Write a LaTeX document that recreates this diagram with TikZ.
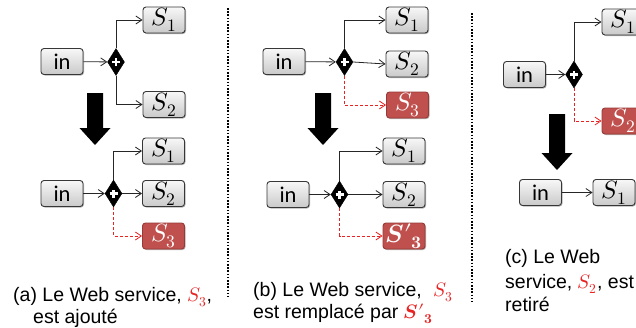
\documentclass[tikz,border=0pt]{standalone}
\usepackage{fontspec}
\usepackage{unicode-math}
\setmainfont{Liberation Sans}
\setmathfont{Latin Modern Math}
\newfontfamily\calibfont{Carlito}
\usetikzlibrary{shapes.geometric,arrows.meta,shadows}
\definecolor{boxred}{RGB}{192,80,77}
\definecolor{boxredline}{RGB}{150,58,56}
\definecolor{linered}{RGB}{232,35,35}
\definecolor{boxline}{RGB}{55,55,55}
\newcommand\bigdown[3]{\fill[black] (#1-8,#2) -- (#1+8,#2) -- (#1+8,#3-17) -- (#1+15.5,#3-17) -- (#1,#3) -- (#1-15.5,#3-17) -- (#1-8,#3-17) -- cycle;}
\newcommand\sprime{\symbfit{S}{\prime}_{\symbf{3}}}
\tikzset{
  box/.style={draw=boxline, line width=0.9pt, rounded corners=3pt, minimum width=42pt, minimum height=26pt, inner sep=0pt,
    top color=gray!6, bottom color=gray!42,
    drop shadow={shadow xshift=1pt, shadow yshift=-1pt, opacity=0.3, fill=black}},
  redbox/.style={draw=boxredline, line width=0.9pt, rounded corners=3pt, minimum width=42pt, minimum height=26pt, inner sep=0pt,
    fill=boxred, text=white,
    drop shadow={shadow xshift=1pt, shadow yshift=-1pt, opacity=0.3, fill=black}},
  inbox/.style={box, font=\calibfont\fontsize{22.5}{23}\selectfont},
  sbox/.style={box, font=\fontsize{25}{26}\selectfont},
  srbox/.style={redbox, font=\fontsize{25}{26}\selectfont},
  gate/.style={diamond, fill=black, draw=black, inner sep=0pt, minimum width=17pt, minimum height=27pt},
  plus/.style={white, line width=2.6pt},
  conn/.style={draw=black!85, line width=0.8pt, -{Straight Barb[length=6pt,width=8pt]}},
  rconn/.style={draw=linered, line width=0.8pt, dash pattern=on 3pt off 2pt, -{Straight Barb[length=6pt,width=8pt]}},
  sepline/.style={line width=2.6pt, dash pattern=on 1.6pt off 1.6pt},
  captext/.style={anchor=base west, inner sep=0pt, font=\fontsize{19.5}{22}\selectfont}
}
\newcommand\plussign[1]{\draw[plus] ([xshift=-4pt]#1.center) -- ([xshift=4pt]#1.center) ([yshift=-4pt]#1.center) -- ([yshift=4pt]#1.center);}
\begin{document}
\begin{tikzpicture}[x=1pt,y=-1pt]
\useasboundingbox (0,0) rectangle (636,327);
\clip (0,0) rectangle (636,327);
% separators
\draw[sepline] (228,8) -- (228,297);
\draw[sepline] (472,13) -- (472,302);

% ---------- panel (a) ----------
\node[inbox] (ain) at (62,61.5) {in};
\node[gate] (ag) at (116,62) {};
\node[sbox] (as1) at (164,20) {$S_1$};
\node[sbox] (as2) at (164,104.5) {$S_2$};
\plussign{ag}
\draw[conn] (ain) -- (ag);
\draw[conn] (ag.north) |- (as1.west);
\draw[conn] (ag.south) |- (as2.west);
\bigdown{95}{93}{145}
\node[inbox] (ain2) at (62,193.5) {in};
\node[gate] (ag2) at (113.5,193.5) {};
\node[sbox] (as12) at (163.5,151) {$S_1$};
\node[sbox] (as22) at (163.5,193.5) {$S_2$};
\node[srbox] (as32) at (163.5,236) {$S_3$};
\plussign{ag2}
\draw[conn] (ain2) -- (ag2);
\draw[conn] (ag2.north) |- (as12.west);
\draw[conn] (ag2) -- (as22);
\draw[rconn] (ag2.south) |- (as32.west);
\node[captext] (acap1) at (13,301.5) {(a) Le Web service, {\color{linered}$S_3$},};
\node[captext] (acap2) at (33,323) {est ajouté};

% ---------- panel (b) ----------
\node[inbox] (bin) at (284,61.5) {in};
\node[gate] (bg) at (344.5,62) {};
\node[sbox] (bs1) at (407,20) {$S_1$};
\node[sbox] (bs2) at (407,64) {$S_2$};
\node[srbox] (bs3) at (407.5,105) {$S_3$};
\plussign{bg}
\draw[conn] (bin) -- (bg);
\draw[conn] (bg.north) |- (bs1.west);
\draw[conn] (bg.east) -- (bs2.west);
\draw[rconn] (bg.south) |- (bs3.west);
\bigdown{323}{93}{145}
\node[inbox] (bin2) at (288,194.5) {in};
\node[gate] (bg2) at (339.5,194.5) {};
\node[sbox] (bs12) at (404,151) {$S_1$};
\node[sbox] (bs22) at (404,194.5) {$S_2$};
\node[srbox] (bs32) at (404,236) {$\sprime$};
\plussign{bg2}
\draw[conn] (bin2) -- (bg2);
\draw[conn] (bg2.north) |- (bs12.west);
\draw[conn] (bg2) -- (bs22);
\draw[rconn] (bg2.south) |- (bs32.west);
\node[captext] (bcap1) at (253,296.5) {(b) Le Web service,\hspace{12pt}{\color{linered}$S_3$}};
\node[captext] (bcap2) at (253,318.5) {est remplacé par {\color{linered}$\sprime$}};

% ---------- panel (c) ----------
\node[inbox] (cin) at (524.5,74.5) {in};
\node[gate] (cg) at (574,74.5) {};
\node[sbox] (cs1) at (623,22) {$S_1$};
\node[srbox] (cs2) at (623,121) {$S_2$};
\plussign{cg}
\draw[conn] (cin) -- (cg);
\draw[conn] (cg.north) |- (cs1.west);
\draw[rconn] (cg.south) |- (cs2.west);
\bigdown{557}{114}{170}
\node[inbox] (cin2) at (540.5,192.5) {in};
\node[sbox] (cs12) at (614,192.5) {$S_1$};
\draw[conn] (cin2) -- (cs12);
\node[captext] (ccap1) at (505,263.5) {(c) Le Web};
\node[captext] (ccap2) at (505,288.5) {service, {\color{linered}$S_2$}, est};
\node[captext] (ccap3) at (505,311.5) {retiré};
\end{tikzpicture}
\end{document}
